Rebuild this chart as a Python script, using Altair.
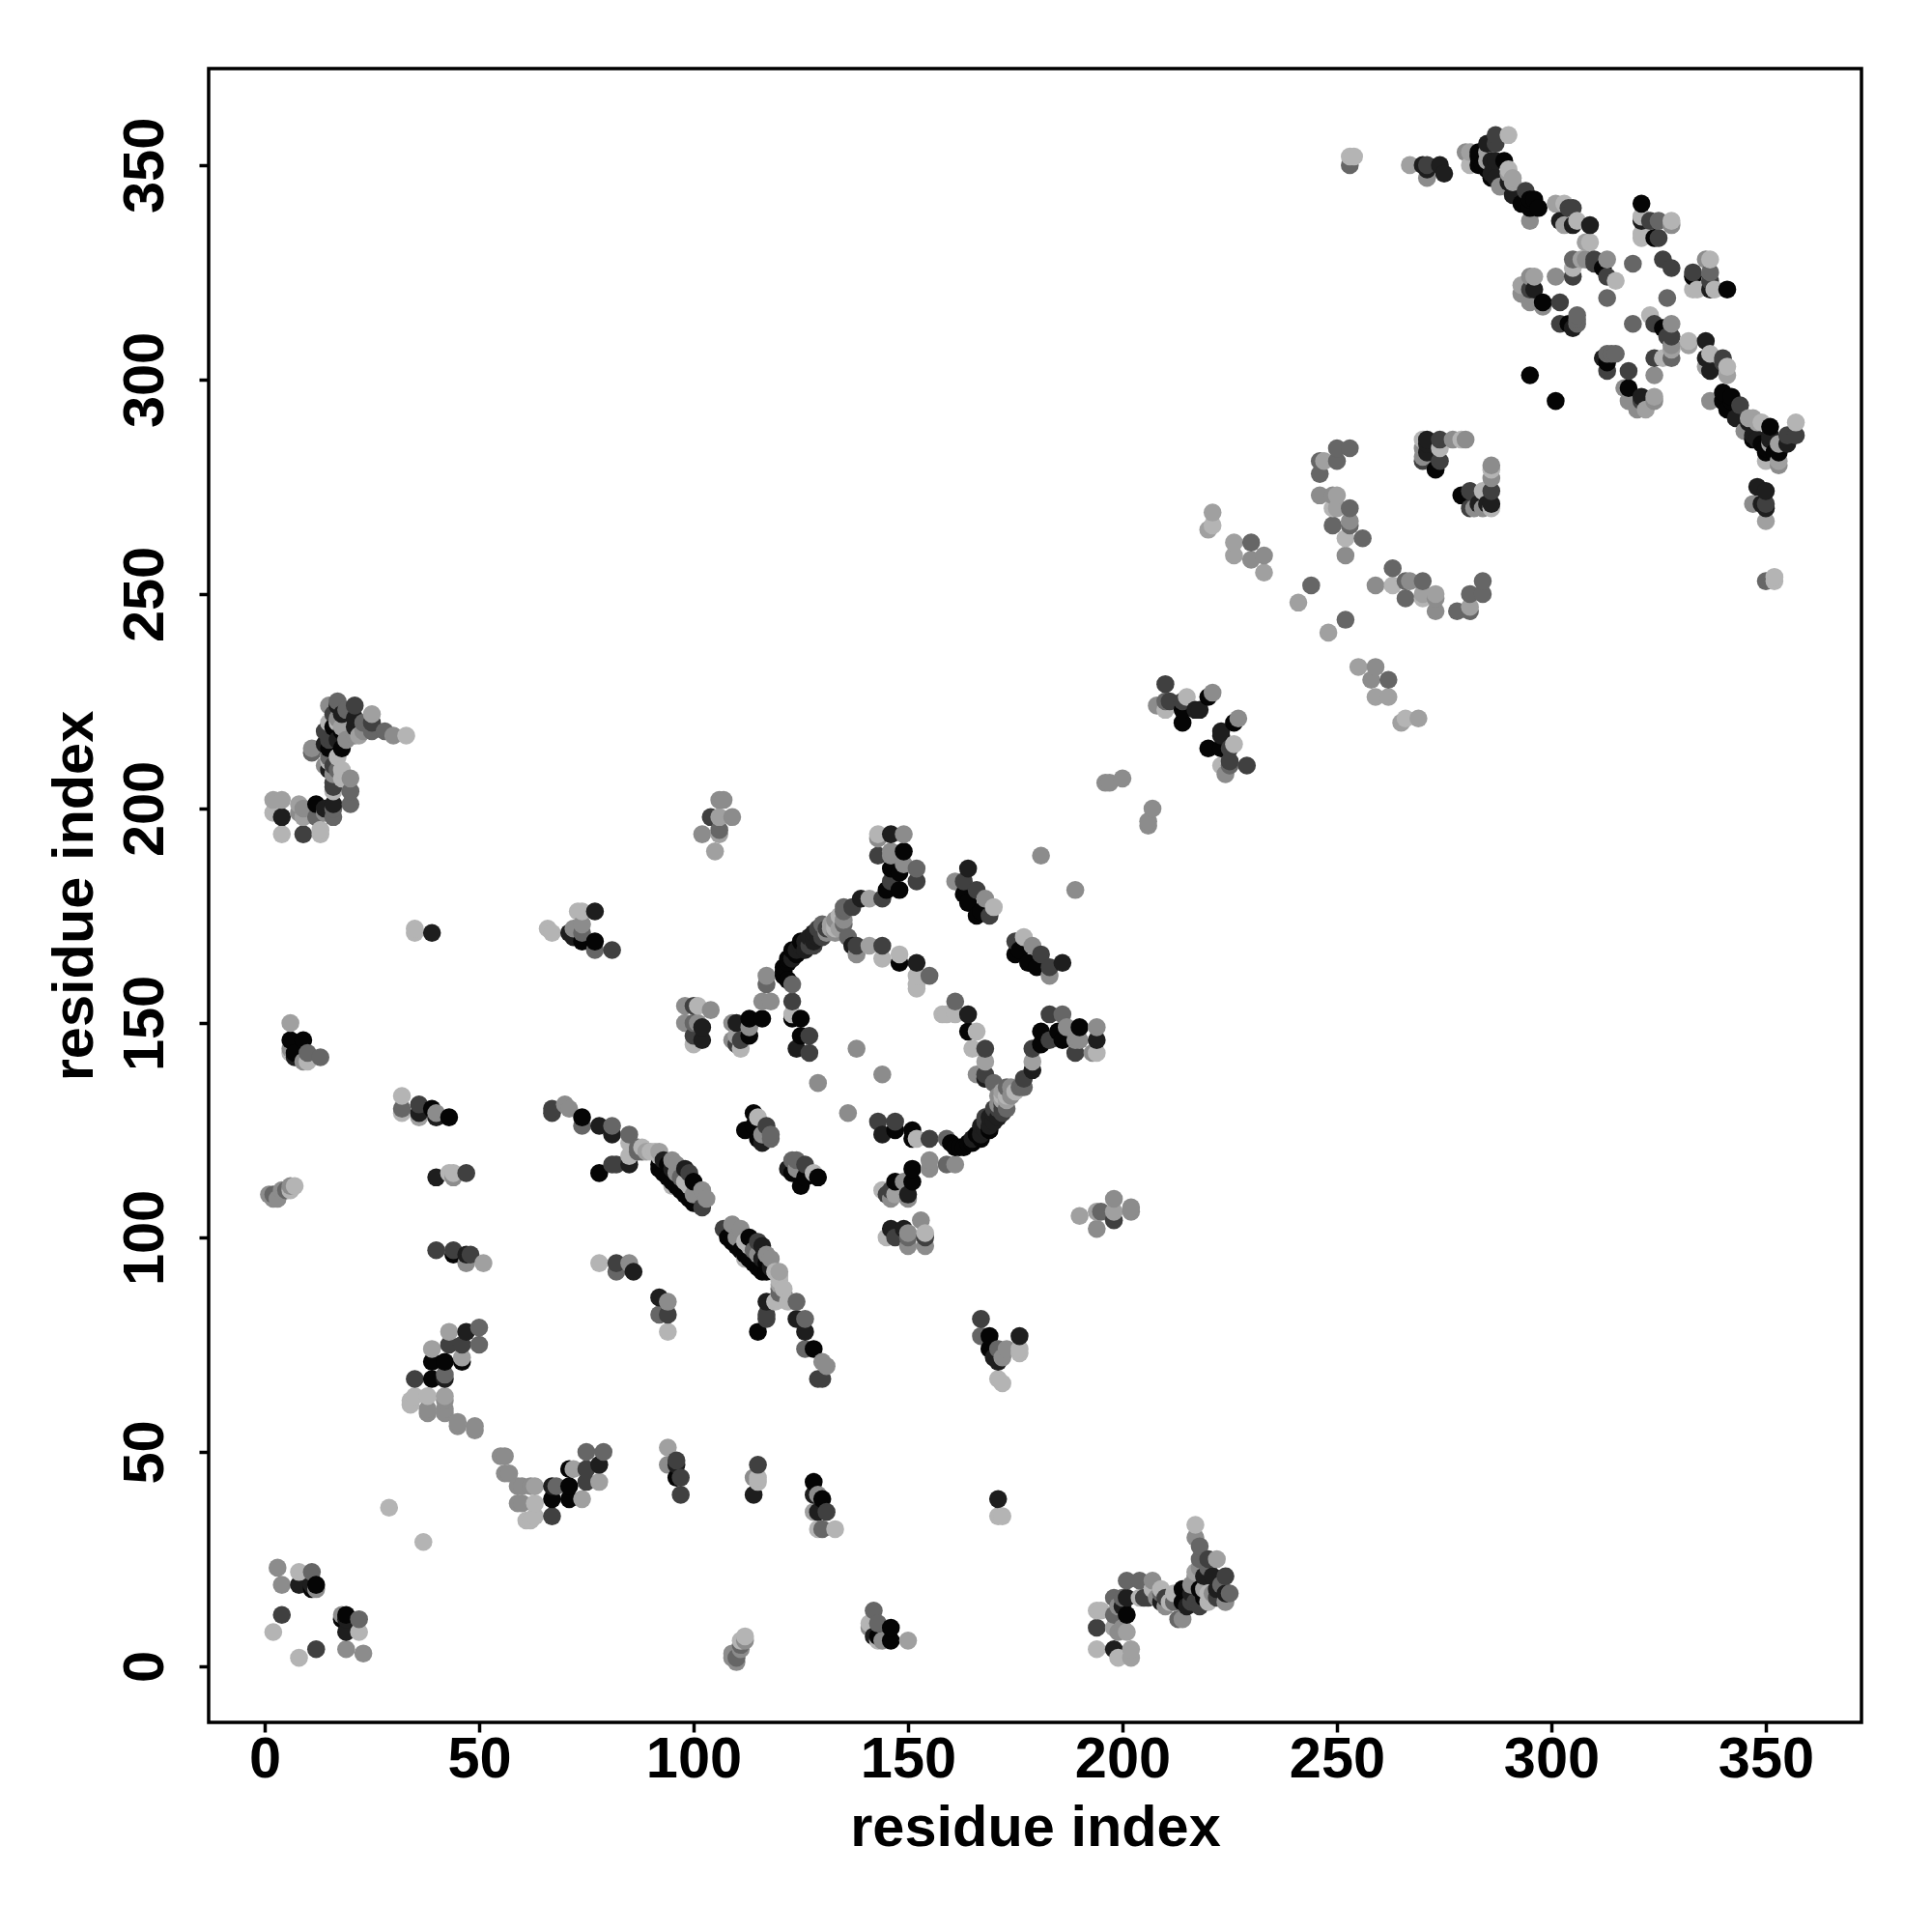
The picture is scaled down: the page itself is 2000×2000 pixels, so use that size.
import altair as alt
import pandas as pd

# contacts of the lower triangle (residue i > residue j), one list per gray shade
shade_black = [(19,12),(18,11),(71,39),(71,42),(71,46),(67,39),(96,44),(128,43),(130,39),(146,9),(146,6),(143,7),
 (129,114),(126,114),(125,112),(123,115),(108,100),(109,99),(110,98),(111,97),(112,96),(113,95),(114,94),(115,93),
 (113,100),(115,78),(128,74),(147,125),(151,125),(151,123),(147,113),(151,116),(160,122),(161,121),(162,121),
 (163,121),(164,122),(165,122),(167,123),(169,125),(181,148),(185,148),(190,149),(186,146),(164,148),(166,148),
 (180,163),(178,164),(175,166),(176,167),(169,77),(169,74),(201,12),(214,18),(214,15),(218,18),(223,217),(220,214),
 (223,214),(226,220),(279,273),(301,295),(318,298),(340,297),(342,296),(341,293),(342,295),(340,295),(347,286),
 (349,285),(351,289),(353,283),(350,283),(352,283),(350,284),(341,321),(333,324),(320,293),(313,304),(326,312),
 (151,113),(148,164),(148,181),(116,92),(117,92),(181,145),(146,186),(166,124),(117,94),(219,16)]
shade_vdark = [(19,8),(19,11),(78,47),(67,42),(96,47),(114,40),(128,40),(129,36),(171,39),(142,7),(92,86),(116,98),
 (124,81),(126,78),(117,85),(122,116),(144,124),(143,127),(146,102),(149,102),(150,110),(164,152),(161,152),(152,164),
 (152,161),(168,125),(167,124),(169,126),(170,127),(171,128),(179,139),(168,137),(186,164),(176,77),(170,72),(171,71),
 (198,12),(198,4),(201,16),(215,14),(219,21),(221,21),(223,218),(225,214),(223,217),(223,210),(285,271),(286,271),
 (283,271),(336,309),(336,305),(337,302),(337,321),(350,270),(349,271),(348,275),(350,274),(343,291),(344,294),(346,290),
 (347,287),(348,286),(351,286),(351,287),(355,285),(357,287),(321,296),(312,305),(337,321),(194,146),(152,159),
 (165,123),(167,126),(169,128),(170,129),(116,95),(118,93),(209,15),(216,17),(222,18),(224,17),(200,14)]
shade_dark = [(12,4),(67,35),(75,43),(75,46),(96,48),(97,44),(97,40),(115,47),(107,102),(129,67),(130,67),(131,36),
 (117,81),(117,82),(94,82),(82,94),(126,117),(143,127),(147,127),(155,123),(168,144),(168,128),(172,129),(172,130),
 (177,137),(179,144),(183,152),(186,152),(183,146),(189,143),(152,183),(161,155),(163,183),(166,181),(175,169),
 (183,161),(167,81),(147,100),(146,111),(145,110),(154,100),(198,104),(194,9),(206,16),(205,16),(217,15),(220,25),
 (224,21),(229,210),(225,211),(286,274),(281,274),(281,270),(340,304),(340,305),(313,302),(318,302),(324,305),
 (321,295),(319,313),(324,313),(328,310),(328,326),(333,325),(337,323),(350,271),(355,287),(357,287),(344,294),(313,324),
 (327,310),(225,214),(144,168),(138,168),(172,131),(168,127),(171,130),(170,130),(115,99),(210,16),(216,15),(218,14),(222,16)]
shade_mdark = [(22,11),(68,42),(75,50),(79,50),(111,5),(110,2),(82,92),(92,82),(120,87),(124,85),(126,81),(126,74),
 (123,118),(124,118),(142,13),(143,10),(159,123),(159,117),(170,136),(173,135),(177,135),(155,161),(152,186),(161,183),
 (195,106),(150,100),(167,77),(171,74),(198,16),(198,12),(201,20),(204,20),(209,17),(213,11),(218,28),(225,17),
 (225,210),(224,208),(252,244),(244,252),(259,252),(263,256),(266,249),(266,253),(270,253),(281,250),(284,253),(284,250),
 (278,246),(281,246),(262,230),(350,253),(313,306),(314,306),(315,306),(324,301),(327,319),(328,305),(337,325),(319,313),(130,32),
 (173,130),(176,135),(120,88),(121,87),(114,97),(212,15),(223,19),(218,25),(220,23),(200,16)]
shade_mid = [(19,4),(23,3),(18,12),(55,49),(56,49),(57,45),(56,45),(59,42),(60,42),(62,42),(59,38),(60,38),(94,47),
 (114,44),(129,40),(112,6),(111,4),(109,3),(109,2),(110,1),(141,9),(144,6),(111,102),(109,103),(118,95),(131,70),(130,71),
 (94,85),(124,116),(136,129),(144,138),(161,117),(155,118),(155,116),(171,131),(179,141),(166,138),(179,168),(183,161),
 (194,149),(187,149),(189,146),(143,193),(146,190),(181,189),(190,105),(194,102),(198,109),(202,107),(202,106),(146,109),
 (150,109),(149,113),(150,101),(150,98),(153,104),(154,98),(173,74),(172,72),(194,13),(200,9),(207,20),(210,14),(214,11),
 (217,30),(224,15),(206,196),(207,200),(206,197),(227,221),(224,208),(265,220),(269,221),(262,226),(258,230),(255,233),
 (259,233),(252,259),(263,252),(267,253),(273,249),(273,246),(284,270),(282,270),(286,277),(286,280),(337,295),(317,298),
 (318,295),(320,293),(324,295),(328,313),(308,328),(328,308),(350,267),(353,280),(347,271),(345,288),(301,324),(336,328),
 (174,133),(174,135),(171,133),(110,100),(115,96),(117,96),(208,16),(216,19),(221,17),(218,23),(217,21),(199,8),(199,14)]
shade_mlight = [(94,51),(150,6),(128,36),(74,39),(78,43),(72,46),(63,42),(144,111),(147,110),(194,106),(190,105),(198,106),
 (168,141),(141,179),(173,132),(202,4),(202,2),(201,8),(198,9),(222,25),(217,22),(219,18),(172,132),(226,262),(233,255),
 (241,248),(248,241),(259,226),(273,250),(270,250),(281,247),(328,307),(332,308),(341,301),(338,321),(337,328),(348,290),
 (346,291),(353,285),(350,281),(351,285),(347,291),(322,293),(324,296),(336,303),(267,350),(281,353),(220,265),(221,269),(223,210),
 (172,134),(120,92),(120,89)]
shade_light = [(8,2),(22,8),(37,29),(63,38),(63,35),(61,34),(62,34),(112,7),(111,6),(115,43),(115,44),(129,32),(133,32),
 (172,35),(171,35),(141,10),(143,6),(194,13),(195,13),(194,4),(199,2),(204,16),(209,18),(211,15),(217,33),(220,15),
 (128,115),(119,92),(120,90),(119,85),(122,85),(112,95),(113,98),(94,78),(152,123),(145,100),(154,101),(144,111),
 (176,73),(176,74),(172,66),(171,67),(177,170),(194,143),(143,194),(165,144),(158,152),(159,152),(161,152),(148,166),
 (226,215),(223,210),(266,221),(263,252),(270,249),(284,274),(286,270),(286,279),(352,254),(352,253),(357,290),
 (350,281),(349,290),(337,306),(341,303),(326,305),(323,315),(334,321),(338,321),(321,333),(328,337),(332,309),(266,221),
 (175,134),(173,133),(172,133),(120,91),(121,88),(112,99),(207,18),(212,17),(220,17)]

shades = {"#050505": shade_black, "#1e1e1e": shade_vdark, "#404040": shade_dark, "#666666": shade_mdark,
          "#8c8c8c": shade_mid, "#a0a0a0": shade_mlight, "#b4b4b4": shade_light}

x_ticks = [0, 50, 100, 150, 200, 250, 300, 350]
axis_title = "residue index"

rows = {}
for gray, pts in shades.items():
    for i, j in pts:
        rows[(i, j)] = gray
        rows[(j, i)] = gray
df = pd.DataFrame([{"x": k[0], "y": k[1], "gray": v} for k, v in sorted(rows.items())])

font = "Liberation Sans"
common = dict(values=x_ticks, grid=False, domain=False, tickColor="black", tickWidth=3.5, tickSize=10,
              labelFont=font, labelFontWeight="bold", labelFontSize=59.5, labelColor="black",
              titleFont=font, titleFontWeight="bold", titleFontSize=59.5, titleColor="black")

chart = alt.Chart(df).mark_circle(size=345, opacity=1).encode(
    x=alt.X("x:Q", scale=alt.Scale(domain=[-13.06, 372.3], nice=False, zero=False),
            axis=alt.Axis(title=axis_title, labelPadding=28, labelBaseline="middle", titlePadding=13, **common)),
    y=alt.Y("y:Q", scale=alt.Scale(domain=[-13.06, 372.5], nice=False, zero=False),
            axis=alt.Axis(title=axis_title, labelAngle=270, labelAlign="center", labelBaseline="bottom",
                          labelPadding=26, titlePadding=13, **common)),
    color=alt.Color("gray:N", scale=None),
).properties(
    width=1711, height=1712,
    background="white",
    autosize=alt.AutoSizeParams(type="none"),
    padding={"left": 208, "top": 63, "right": 60, "bottom": 180},
).configure_view(stroke="black", strokeWidth=3.5, fill="white")

chart.save("out.html", embed_options={"renderer": "svg", "actions": False})
